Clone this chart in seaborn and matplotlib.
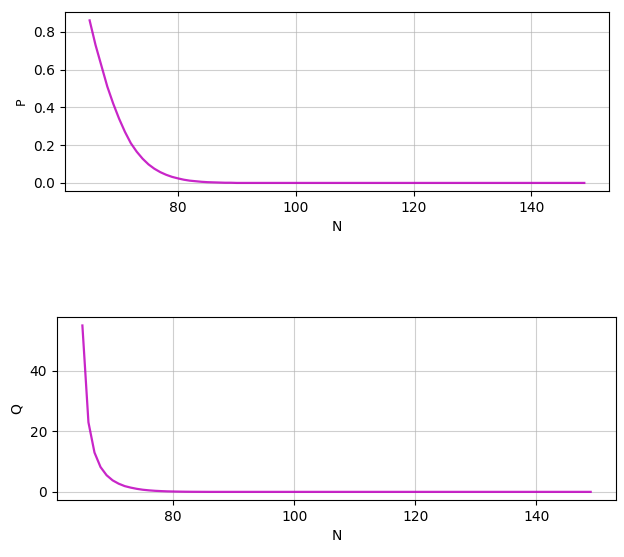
import numpy as np
import pandas as pd
import matplotlib
matplotlib.use('Agg')
import matplotlib.pyplot as plt
import seaborn as sns

# valores
N = list(range(65, 150))

P_head = [0.86, 0.73, 0.62, 0.51, 0.42, 0.34, 0.27, 0.21, 0.165, 0.128,
          0.098, 0.075, 0.057, 0.043, 0.032, 0.024, 0.017, 0.012, 0.009, 0.006,
          0.004, 0.003, 0.002, 0.001, 0.001]
P = P_head + [0.0] * (len(N) - len(P_head))

Q_head = [55.0, 23.0, 13.0, 8.2, 5.5, 3.8, 2.7, 1.9, 1.4, 1.0,
          0.7, 0.5, 0.35, 0.25, 0.17, 0.12, 0.08, 0.05, 0.03, 0.02,
          0.01]
Q = Q_head + [0.0] * (len(N) - len(Q_head))

df = pd.DataFrame({'N': N, 'P': P, 'Q': Q})

plt.rcParams['font.family'] = 'DejaVu Sans'
plt.rcParams['font.size'] = 10

fig = plt.figure(figsize=(6.24, 5.57), dpi=100)
ax1 = fig.add_axes([0.104, 0.657, 0.872, 0.321])
ax2 = fig.add_axes([0.0913, 0.102, 0.896, 0.3286])

sns.lineplot(data=df, x='N', y='P', ax=ax1, color='m', alpha=0.85, linewidth=1.6)
sns.lineplot(data=df, x='N', y='Q', ax=ax2, color='m', alpha=0.85, linewidth=1.6)

ax1.set_ylabel('P', fontsize=9)
ax2.set_ylabel('Q', fontsize=10)
for ax in (ax1, ax2):
    ax.set_xlabel('N')
    ax.grid(True, alpha=0.6)
    ax.set_axisbelow(True)

fig.savefig('out.png', dpi=100)
